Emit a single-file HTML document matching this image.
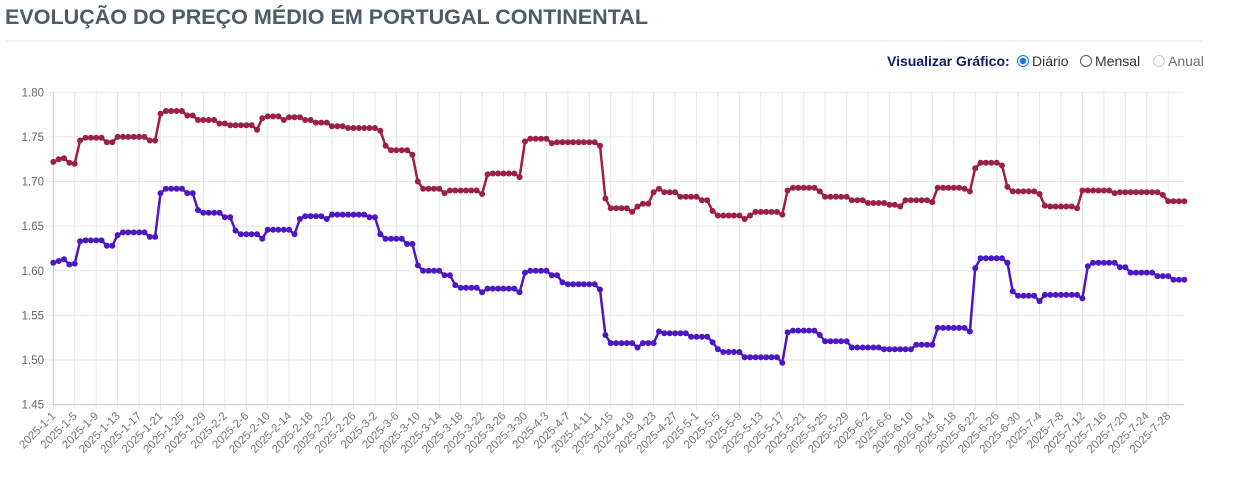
<!DOCTYPE html>
<html><head><meta charset="utf-8"><style>
body{margin:0;background:#fff;width:1235px;height:473px;overflow:hidden;font-family:"Liberation Sans",sans-serif}
</style></head><body>
<svg id="s" width="1235" height="473" xmlns="http://www.w3.org/2000/svg" font-family="Liberation Sans, sans-serif">
<text x="5" y="24" font-size="21" font-weight="bold" fill="#4d5a68" textLength="643" lengthAdjust="spacingAndGlyphs">EVOLUÇÃO DO PREÇO MÉDIO EM PORTUGAL CONTINENTAL</text>
<line x1="5" y1="41" x2="1203" y2="41" stroke="#e6e6e6" stroke-width="1"/>
<text x="887" y="66" font-size="14" font-weight="bold" fill="#0d1a63">Visualizar Gráfico:</text>
<circle cx="1023" cy="61" r="5.5" fill="#fff" stroke="#1a73e8" stroke-width="1"/>
<circle cx="1023" cy="61" r="3.2" fill="#1a73e8"/>
<text x="1032" y="66" font-size="14" fill="#333">Diário</text>
<circle cx="1086" cy="61" r="5.5" fill="#fff" stroke="#555" stroke-width="1"/>
<text x="1095" y="66" font-size="14" fill="#333">Mensal</text>
<circle cx="1159" cy="61" r="5.5" fill="#fff" stroke="#ccc" stroke-width="1"/>
<text x="1168" y="66" font-size="14" fill="#6a7580">Anual</text>
<g id="g"></g>
</svg>
<script>
var X0=53.3,DX=5.36,Y0=92.3,PY=892.4;
function X(d){return X0+DX*d}
function Y(v){return Y0+(1.80-v)*PY}
var g=document.getElementById('g'),h='';
for(var i=0;i<8;i++){var v=1.80-0.05*i,y=Y(v);h+='<line x1="47" y1="'+y+'" x2="1184" y2="'+y+'" stroke="#e8e8e8"/>';
h+='<text x="44" y="'+(y+4)+'" font-size="11.5" fill="#666" text-anchor="end">'+v.toFixed(2)+'</text>';}
var md=[31,28,31,30,31,30,31];
for(var d=0;d<=211;d+=4){var m=0,r=d;while(r>=md[m]){r-=md[m];m++;}
var x=X(d);h+='<line x1="'+x+'" y1="'+Y0+'" x2="'+x+'" y2="'+(Y(1.45)+5)+'" stroke="#e8e8e8"/>';
h+='<text font-size="11.5" fill="#777" text-anchor="end" transform="translate('+(x+3)+','+(Y(1.45)+12)+') rotate(-45)">2025-'+(m+1)+'-'+(r+1)+'</text>';}
h+='<line x1="'+X0+'" y1="'+Y0+'" x2="'+X0+'" y2="'+Y(1.45)+'" stroke="#ccc"/>';
h+='<line x1="'+X0+'" y1="'+Y(1.45)+'" x2="1184" y2="'+Y(1.45)+'" stroke="#ccc"/>';
function bp(a){var o=[];for(var i=0;i<a.length;i+=2){var s=a[i],e=(i+2<a.length)?a[i+2]:212;for(var k=s;k<e;k++)o.push(a[i+1]);}return o}
var red=bp([0,1.722,1,1.725,2,1.726,3,1.721,4,1.720,5,1.746,6,1.749,10,1.744,12,1.750,18,1.746,20,1.776,21,1.779,25,1.774,27,1.769,31,1.765,33,1.763,38,1.758,39,1.771,40,1.773,43,1.769,44,1.772,47,1.769,49,1.766,52,1.762,55,1.760,61,1.757,62,1.740,63,1.735,67,1.730,68,1.700,69,1.692,73,1.687,74,1.690,80,1.686,81,1.708,82,1.709,87,1.705,88,1.745,89,1.748,93,1.743,94,1.744,102,1.740,103,1.681,104,1.670,108,1.666,109,1.672,110,1.675,112,1.688,113,1.692,114,1.688,117,1.683,121,1.679,123,1.667,124,1.662,129,1.658,130,1.662,131,1.666,136,1.663,137,1.690,138,1.693,143,1.689,144,1.683,149,1.679,152,1.676,156,1.674,158,1.672,159,1.679,164,1.677,165,1.693,170,1.692,171,1.689,172,1.715,173,1.721,177,1.718,178,1.694,179,1.689,184,1.686,185,1.673,186,1.672,191,1.670,192,1.690,198,1.687,199,1.688,207,1.685,208,1.678]);
var blue=bp([0,1.609,1,1.611,2,1.613,3,1.607,4,1.608,5,1.633,6,1.634,10,1.628,12,1.640,13,1.643,18,1.638,20,1.687,21,1.692,25,1.687,27,1.668,28,1.665,32,1.660,34,1.645,35,1.641,39,1.636,40,1.646,45,1.641,46,1.658,47,1.661,51,1.658,52,1.663,59,1.660,61,1.641,62,1.636,66,1.630,68,1.606,69,1.600,73,1.595,75,1.584,76,1.581,80,1.576,81,1.580,87,1.576,88,1.598,89,1.600,93,1.595,95,1.587,96,1.585,102,1.579,103,1.528,104,1.519,109,1.514,110,1.519,113,1.532,114,1.530,119,1.526,123,1.520,124,1.512,125,1.509,129,1.503,136,1.497,137,1.531,138,1.533,143,1.528,144,1.521,149,1.514,155,1.512,161,1.517,165,1.536,171,1.532,172,1.603,173,1.614,178,1.609,179,1.577,180,1.572,184,1.566,185,1.573,192,1.569,193,1.605,194,1.609,199,1.604,201,1.598,206,1.594,209,1.590]);
function ser(a,c){var p='';for(var i=0;i<a.length;i++)p+=(i?'L':'M')+X(i).toFixed(1)+' '+Y(a[i]).toFixed(1);
var s='<path d="'+p+'" fill="none" stroke="'+c+'" stroke-width="2.5"/>';
for(var i=0;i<a.length;i++)s+='<circle cx="'+X(i).toFixed(1)+'" cy="'+Y(a[i]).toFixed(1)+'" r="3" fill="'+c+'"/>';return s}
h+=ser(red,'#9c1f48')+ser(blue,'#4d17c4');
g.innerHTML=h;
</script>
</body></html>
